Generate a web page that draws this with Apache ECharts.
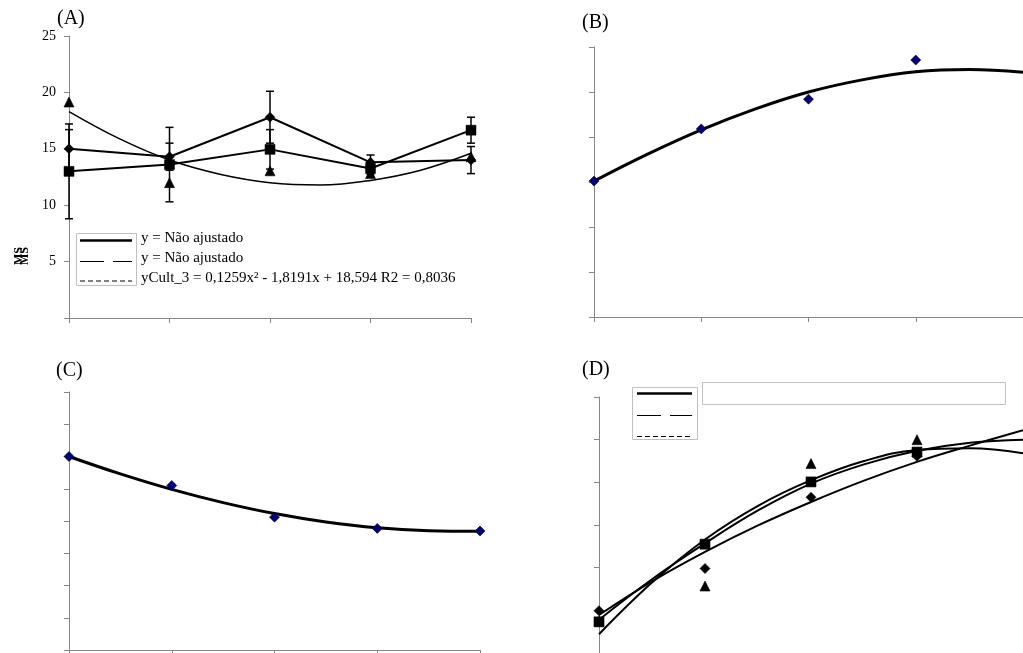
<!DOCTYPE html>
<html>
<head>
<meta charset="utf-8">
<script src="https://cdn.jsdelivr.net/npm/echarts@6/dist/echarts.min.js"></script>
<style>html,body{margin:0;padding:0;background:#fff;}#c{width:1023px;height:653px;}</style>
</head>
<body>
<div id="c"></div>
<script>
// ---------- Panel A ----------
const aX = [1, 2, 3, 4, 5];
const aYTicks = [0, 5, 10, 15, 20, 25];
const aDiamond = [15.0, 14.3, 17.8, 13.8, 14.0];
const aDiamondErr = [1.7, 1.2, 2.3, 0.65, 1.2];
const aSquare = [13.0, 13.6, 14.95, 13.25, 16.65];
const aSquareErr = [4.2, 3.3, 1.75, 0.5, 1.15];
const aTriangle = [19.15, 12.0, 13.05, 12.8, 14.3];
const aTrendX = [1, 1.5, 2, 2.5, 3, 3.5, 4, 4.5, 5];
const aTrendY = [18.3, 15.9, 14.0, 12.75, 12.0, 11.8, 12.2, 13.1, 14.6];
const aLegendTexts = ["y = Não ajustado", "y = Não ajustado", "yCult_3 = 0,1259x² - 1,8191x + 18,594 R2 = 0,8036"];

// ---------- Panel B ----------
const bX = [0, 1, 2, 3];
const bY = [3.02, 4.18, 4.84, 5.71];
const bFitX = [0, 0.5, 1, 1.5, 2, 2.5, 3, 3.5, 4];
const bFitY = [3.02, 3.62, 4.16, 4.62, 5.0, 5.27, 5.45, 5.50, 5.44];

// ---------- Panel C ----------
const cX = [0, 1, 2, 3, 4];
const cY = [6.0, 5.1, 4.12, 3.77, 3.69];
const cFitX = [0, 0.5, 1, 1.5, 2, 2.5, 3, 3.5, 4];
const cFitY = [6.0, 5.46, 4.98, 4.57, 4.23, 3.97, 3.79, 3.70, 3.68];

// ---------- Panel D ----------
const dX = [0, 1, 2, 3];
const dDiamond = [0.99, 1.98, 3.65, 4.61];
const dSquare = [0.73, 2.55, 4.01, 4.71];
const dTriangle = [0.75, 1.57, 4.44, 5.0];
const dFitX = [0, 0.5, 1, 1.5, 2, 2.5, 3, 3.5, 4];
const dFit1 = [0.89, 1.68, 2.37, 2.99, 3.54, 4.04, 4.48, 4.86, 5.22];
const dFit2 = [0.44, 1.65, 2.66, 3.45, 4.05, 4.50, 4.76, 4.80, 4.68];
const dFit3 = [0.78, 1.73, 2.57, 3.34, 3.97, 4.42, 4.74, 4.93, 5.0];

const panelLabels = ["(A)", "(B)", "(C)", "(D)"];

const SERIF = "Liberation Serif";
const AX = '#868686';

function xAxisCfg(g, min, max) {
  return {type: 'value', gridIndex: g, min: min, max: max, interval: 1,
    axisLine: {show: true, onZero: false, lineStyle: {color: AX, width: 1}},
    axisTick: {show: true, length: 5, lineStyle: {color: AX}},
    axisLabel: {show: false}, splitLine: {show: false}};
}
function yAxisCfg(g, min, max, interval, labels) {
  return {type: 'value', gridIndex: g, min: min, max: max, interval: interval,
    axisLine: {show: true, onZero: false, lineStyle: {color: AX, width: 1}},
    axisTick: {show: true, length: 5, lineStyle: {color: AX}},
    axisLabel: labels ? {show: true, fontFamily: SERIF, fontSize: 14, color: '#000', margin: 13,
      formatter: v => (v === 0 ? '' : String(v))} : {show: false},
    splitLine: {show: false}};
}
function zip(xs, ys) { return xs.map((x, i) => [x, ys[i]]); }

function errRender(params, api) {
  const x = api.value(0), lo = api.value(1), hi = api.value(2);
  const p1 = api.coord([x, hi]), p2 = api.coord([x, lo]);
  const w = 4, st = {stroke: '#000', lineWidth: 1.5};
  return {type: 'group', children: [
    {type: 'line', shape: {x1: p1[0], y1: p1[1], x2: p2[0], y2: p2[1]}, style: st},
    {type: 'line', shape: {x1: p1[0] - w, y1: p1[1], x2: p1[0] + w, y2: p1[1]}, style: st},
    {type: 'line', shape: {x1: p2[0] - w, y1: p2[1], x2: p2[0] + w, y2: p2[1]}, style: st}
  ]};
}

const lineBase = (name, xi, yi, data, width, symbol, size, color) => ({
  name: name, type: 'line', xAxisIndex: xi, yAxisIndex: yi, data: data,
  symbol: symbol || 'none', symbolSize: size || 0, showSymbol: !!symbol,
  lineStyle: {color: '#000', width: width}, itemStyle: {color: color || '#000', borderColor: '#000', borderWidth: 0.5},
  smooth: false, z: 3
});
const smoothLine = (name, xi, yi, data, width) => ({
  name: name, type: 'line', xAxisIndex: xi, yAxisIndex: yi, data: data, symbol: 'none',
  smooth: 0.4, lineStyle: {color: '#000', width: width}, z: 2
});
const scatter = (name, xi, yi, data, symbol, size, color) => ({
  name: name, type: 'scatter', xAxisIndex: xi, yAxisIndex: yi, data: data, symbol: symbol,
  symbolSize: size, itemStyle: {color: color, borderColor: '#000', borderWidth: 0.6, opacity: 1}, z: 4
});

const series = [
  // Panel A
  {type: 'custom', xAxisIndex: 0, yAxisIndex: 0, renderItem: errRender, z: 1,
   data: aX.map((x, i) => [x, aSquare[i] - aSquareErr[i], aSquare[i] + aSquareErr[i]])},
  {type: 'custom', xAxisIndex: 0, yAxisIndex: 0, renderItem: errRender, z: 1,
   data: aX.map((x, i) => [x, aDiamond[i] - aDiamondErr[i], aDiamond[i] + aDiamondErr[i]])},
  smoothLine('A trend', 0, 0, zip(aTrendX, aTrendY), 1.5),
  lineBase('A diamond', 0, 0, zip(aX, aDiamond), 2, 'diamond', 10),
  lineBase('A square', 0, 0, zip(aX, aSquare), 2, 'rect', 10),
  scatter('A triangle', 0, 0, zip(aX, aTriangle), 'triangle', 10, '#000'),
  // Panel B
  smoothLine('B fit', 1, 1, zip(bFitX, bFitY), 3),
  scatter('B', 1, 1, zip(bX, bY), 'diamond', 10, '#000080'),
  // Panel C
  smoothLine('C fit', 2, 2, zip(cFitX, cFitY), 3),
  scatter('C', 2, 2, zip(cX, cY), 'diamond', 10, '#000080'),
  // Panel D
  smoothLine('D fit1', 3, 3, zip(dFitX, dFit1), 2),
  smoothLine('D fit2', 3, 3, zip(dFitX, dFit2), 2),
  smoothLine('D fit3', 3, 3, zip(dFitX, dFit3), 2),
  scatter('D triangle', 3, 3, zip(dX, dTriangle), 'triangle', 10, '#000'),
  scatter('D diamond', 3, 3, zip(dX, dDiamond), 'diamond', 10, '#000'),
  scatter('D square', 3, 3, zip(dX, dSquare), 'rect', 10, '#000')
];

const txt = (x, y, s, size, extra) => Object.assign({type: 'text', left: x, top: y,
  style: {text: s, font: size + 'px "' + SERIF + '"', fill: '#000'}, z: 10}, extra || {});
const hline = (x1, x2, y, w, dash) => ({type: 'line', shape: {x1: x1, y1: y, x2: x2, y2: y},
  style: {stroke: '#000', lineWidth: w, lineDash: dash || null}, z: 10});
const box = (x, y, w, h) => ({type: 'rect', shape: {x: x, y: y, width: w, height: h},
  style: {fill: '#fff', stroke: '#c0c0c0', lineWidth: 1}, z: 9});

const graphic = [
  txt(57, 9, panelLabels[0], 20),
  txt(582, 13, panelLabels[1], 20),
  txt(56, 361, panelLabels[2], 20),
  txt(582, 360, panelLabels[3], 20),
  // legend A
  box(76.5, 233.5, 60, 52),
  hline(80, 132, 240.5, 2.5),
  hline(80, 132, 261.5, 1.2, [24, 9]),
  hline(80, 132, 281, 1, [5, 3]),
  txt(141, 231, aLegendTexts[0], 15),
  txt(141, 251, aLegendTexts[1], 15),
  txt(141, 271, aLegendTexts[2], 15),
  // y-axis title (illegible glyph cluster)
  {type: 'text', x: 13, y: 265, rotation: Math.PI / 2,
   style: {text: 'MS', font: 'bold 12px "' + SERIF + '"', fill: '#000'}, z: 10},
  {type: 'text', x: 19, y: 265, rotation: Math.PI / 2,
   style: {text: 'MS', font: 'bold 12px "' + SERIF + '"', fill: '#000'}, z: 10},
  // legend D
  box(632.5, 387.5, 65, 52),
  hline(637, 692, 393.5, 2.5),
  hline(637, 692, 415.5, 1.2, [24, 9]),
  hline(637, 692, 436.5, 1, [5, 3]),
  box(702.5, 382.5, 303, 22)
];

const option = {
  animation: false,
  backgroundColor: '#fff',
  grid: [
    {left: 69, top: 36, width: 402, height: 282},
    {left: 594, top: 47, width: 437, height: 270},
    {left: 69, top: 392, width: 411, height: 258},
    {left: 599, top: 397, width: 432, height: 256}
  ],
  xAxis: [xAxisCfg(0, 1, 5), xAxisCfg(1, 0, 4), xAxisCfg(2, 0, 4), xAxisCfg(3, 0, 4)],
  yAxis: [yAxisCfg(0, aYTicks[0], aYTicks[aYTicks.length - 1], 5, true), yAxisCfg(1, 0, 6, 1, false),
          yAxisCfg(2, 0, 8, 1, false), yAxisCfg(3, 0, 6, 1, false)],
  series: series,
  graphic: graphic
};
const chart = echarts.init(document.getElementById('c'), null, {renderer: 'canvas'});
chart.setOption(option);
</script>
</body>
</html>
